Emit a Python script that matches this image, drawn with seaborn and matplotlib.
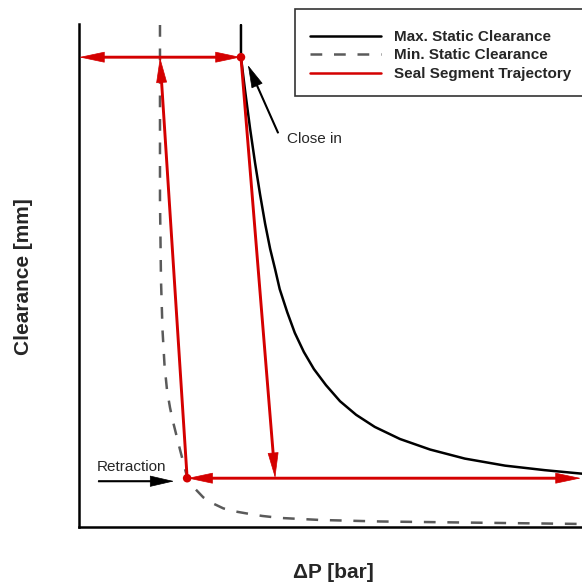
import matplotlib
matplotlib.use("Agg")
import matplotlib.pyplot as plt
from matplotlib.lines import Line2D
import seaborn as sns
import pandas as pd

# ---- data (arbitrary units) ----
max_dp = [3.22, 3.22, 3.30, 3.40, 3.50, 3.60, 3.70, 3.80, 3.90, 3.99, 4.14, 4.29,
          4.47, 4.67, 4.91, 5.19, 5.51, 5.88, 6.38, 6.98, 7.67, 8.47, 9.26, 10.0]
max_cl = [9.98, 9.34, 8.69, 7.93, 7.24, 6.61, 6.03, 5.53, 5.12, 4.73, 4.27, 3.86,
          3.48, 3.14, 2.82, 2.50, 2.23, 1.99, 1.75, 1.54, 1.36, 1.22, 1.13, 1.06]

min_dp = [1.61, 1.61, 1.63, 1.66, 1.70, 1.75, 1.81, 1.87, 1.91, 2.01, 2.14, 2.27,
          2.47, 2.66, 2.87, 3.10, 3.33, 3.64, 4.00, 4.79, 5.98, 7.57, 10.0]
min_cl = [9.98, 6.50, 4.91, 3.92, 3.22, 2.72, 2.37, 2.09, 1.93, 1.53, 1.03, 0.80,
          0.59, 0.47, 0.37, 0.31, 0.27, 0.22, 0.18, 0.14, 0.11, 0.09, 0.06]

# seal segment trajectory: start point, end point, arrow heads
traj_start = [(0.00, 9.34), (2.15, 0.97), (3.22, 9.34), (2.15, 0.97)]
traj_end = [(3.22, 9.34), (1.61, 9.34), (3.90, 0.97), (9.98, 0.97)]
traj_style = ["<|-|>", "-|>", "-|>", "<|-|>"]
dot_dp = [3.22, 2.15]
dot_cl = [9.34, 0.97]

labels = ["Max. Static Clearance", "Min. Static Clearance", "Seal Segment Trajectory"]
x_label = "\u0394P [bar]"
y_label = "Clearance [mm]"

RED = "#d40000"
GREY = "#5a5a5a"
DASH = (0, (4.7, 4.7))

sns.set_style("white")
plt.rcParams["font.family"] = ["Liberation Sans", "DejaVu Sans"]

fig = plt.figure(figsize=(5.82, 5.84), dpi=100)
ax = fig.add_axes([79 / 582, 1 - 527 / 584, 503 / 582, 503 / 584])

df_max = pd.DataFrame({"dp": max_dp, "cl": max_cl})
df_min = pd.DataFrame({"dp": min_dp, "cl": min_cl})

sns.lineplot(data=df_max, x="dp", y="cl", sort=False, estimator=None, ax=ax,
             color="black", linewidth=1.8, zorder=2, solid_joinstyle="round")
sns.lineplot(data=df_min, x="dp", y="cl", sort=False, estimator=None, ax=ax,
             color=GREY, linewidth=1.8, linestyle=DASH, zorder=2)


def arrow(start, end, style, color, lw, hl, hw):
    # shaft (shortened under the heads)
    ax.annotate("", xy=end, xytext=start,
                arrowprops=dict(arrowstyle="-", color=color, lw=lw,
                                shrinkA=hl * 0.5 if style.startswith("<") else 0,
                                shrinkB=hl * 0.5, capstyle="butt"),
                zorder=3)
    # heads (thin outline so the tips reach the end points)
    ax.annotate("", xy=end, xytext=start,
                arrowprops=dict(arrowstyle=f"{style},head_length={hl},head_width={hw}",
                                color=color, lw=0.5, shrinkA=0, shrinkB=0,
                                mutation_scale=1),
                zorder=3)


for s0, s1, st in zip(traj_start, traj_end, traj_style):
    arrow(s0, s1, st, RED, 2.1, 17, 3.6)

sns.scatterplot(x=dot_dp, y=dot_cl, ax=ax, color=RED, s=38, edgecolor="none",
                zorder=4, legend=False)

# annotations
arrow((3.96, 7.83), (3.36, 9.18), "-|>", "black", 1.5, 15, 4.0)
ax.text(4.14, 7.71, "Close in", fontsize=11, ha="left", va="center")
arrow((0.38, 0.91), (1.89, 0.91), "-|>", "black", 1.5, 16, 3.7)
ax.text(0.36, 1.19, "Retraction", fontsize=11, ha="left", va="center")

ax.set_xlim(0, 10)
ax.set_ylim(0, 10)
ax.set_xticks([])
ax.set_yticks([])
for s in ["top", "right"]:
    ax.spines[s].set_visible(False)
for s in ["left", "bottom"]:
    ax.spines[s].set_color("black")
    ax.spines[s].set_linewidth(1.8)

ax.set_xlabel(x_label, fontsize=15, fontweight="bold")
ax.set_ylabel(y_label, fontsize=15, fontweight="bold")
ax.xaxis.label.set_va("center")
ax.yaxis.label.set_va("center")
ax.xaxis.set_label_coords((333 - 79) / 503, (527 - 572) / 503)
ax.yaxis.set_label_coords((24 - 79) / 503, (527 - 277) / 503)

handles = [Line2D([], [], color="black", lw=1.8),
           Line2D([], [], color=GREY, lw=1.8, linestyle=DASH),
           Line2D([], [], color=RED, lw=1.8)]
leg = ax.legend(handles, labels, loc="upper left",
                bbox_to_anchor=(295 / 582, 1 - 9 / 584),
                bbox_transform=fig.transFigure, borderaxespad=0,
                frameon=True, fancybox=False, framealpha=1, edgecolor="#333333",
                borderpad=1.0, handlelength=4.6, handletextpad=0.85,
                labelspacing=0.3, prop={"size": 11, "weight": "bold"},
                title=" ", title_fontsize=1)
leg.get_frame().set_linewidth(1.2)

fig.savefig("out.png", dpi=100)
